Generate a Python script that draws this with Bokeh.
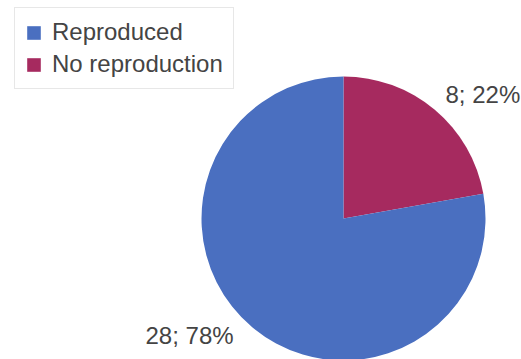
from math import radians
from bokeh.plotting import figure
from bokeh.models import ColumnDataSource, Range1d, Legend, LegendItem
from bokeh.embed import file_html
from bokeh.resources import INLINE
from bokeh.core.properties import value

# Outcome counts
categories = ["Reproduced", "No reproduction"]
counts = [28, 8]
colors = ["#4a6fc0", "#a62a5f"]

W, H = 521, 359
p = figure(width=W, height=H, output_backend="svg", toolbar_location=None,
           x_range=Range1d(0, W), y_range=Range1d(0, H), min_border=0,
           background_fill_color="white", border_fill_color="white")
p.axis.visible = False
p.grid.visible = False
p.outline_line_color = None

cx, cy, r = 343, 141, 142
total = sum(counts)

# Slices run clockwise; "No reproduction" starts at 12 o'clock
order = [1, 0]
start = 90.0
renderers = {}
for i in order:
    sweep = 360.0 * counts[i] / total
    end = start - sweep
    src = ColumnDataSource(dict(x=[cx], y=[cy], s=[radians(start)], e=[radians(end)]))
    renderers[i] = p.wedge(x="x", y="y", radius=r, start_angle="s", end_angle="e",
                           direction="clock", fill_color=colors[i], line_color=None,
                           source=src)
    start = end

pct = [round(100 * c / total) for c in counts]
lab_src = ColumnDataSource(dict(
    x=[445, 145], y=[265, 24],
    t=[f"{counts[1]}; {pct[1]}%", f"{counts[0]}; {pct[0]}%"]))
p.text(x="x", y="y", text="t", source=lab_src, text_font=value("Liberation Sans"),
       text_font_size="24px", text_color="#444444", text_baseline="middle",
       text_align="left")

legend = Legend(items=[LegendItem(label=categories[0], renderers=[renderers[0]]),
                       LegendItem(label=categories[1], renderers=[renderers[1]])],
                location=(14, 270), glyph_width=17, glyph_height=17,
                label_standoff=10, label_text_font="Liberation Sans",
                label_text_font_size="24px", label_text_color="#444444",
                label_height=17, spacing=4, padding=10, margin=0,
                border_line_color="#d0d0d0", background_fill_color="white")
p.add_layout(legend)

open("out.html", "w").write(file_html(p, INLINE))
